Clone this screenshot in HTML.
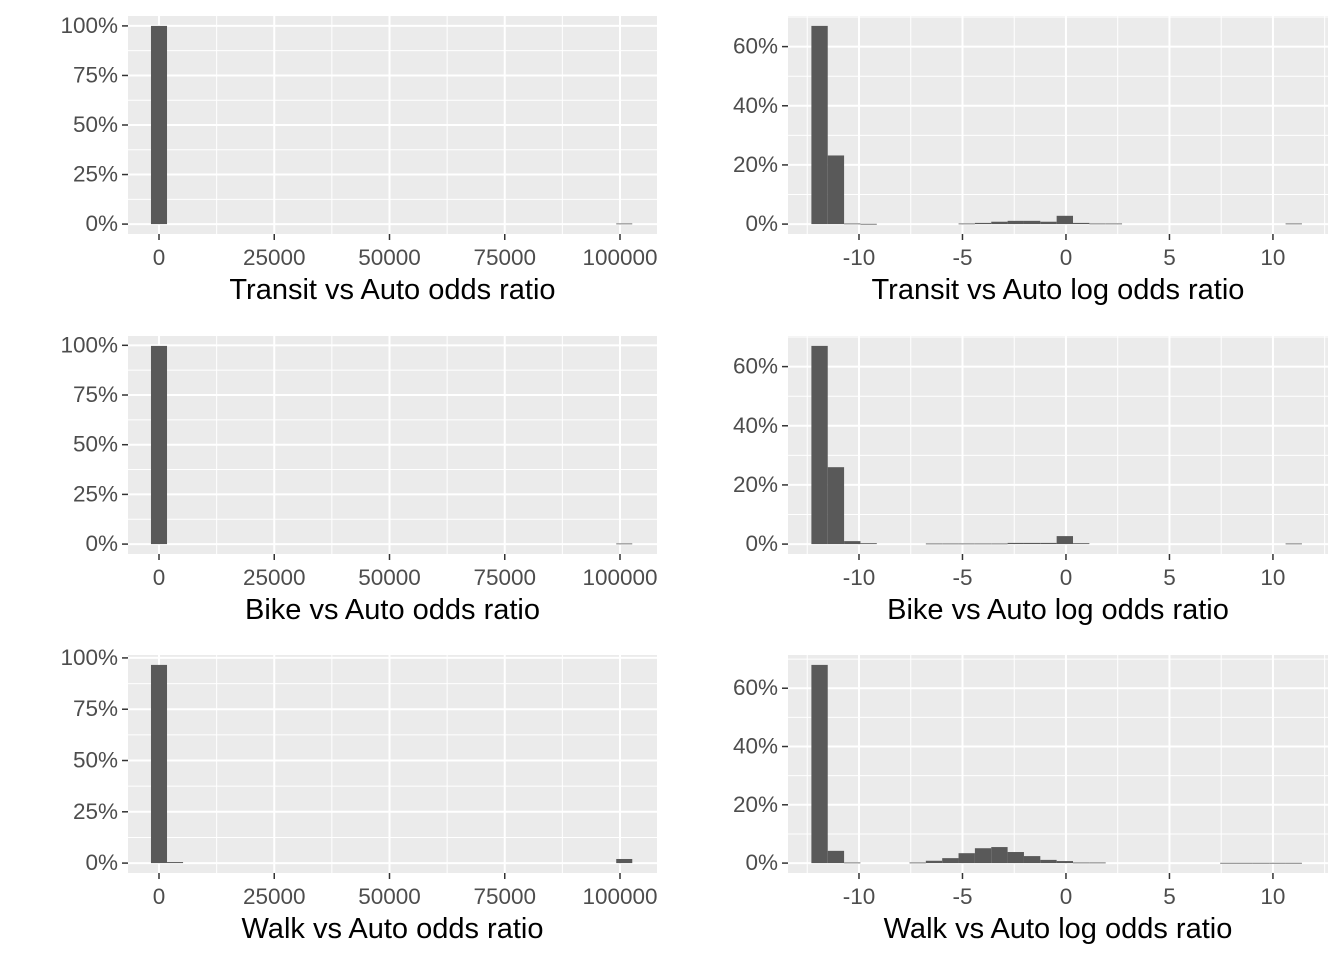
<!DOCTYPE html>
<html><head><meta charset="utf-8"><style>
html,body{margin:0;padding:0;background:#fff;}
svg{display:block;font-family:"Liberation Sans",sans-serif;}
</style></head><body>
<svg id="chart" width="1344" height="960" xmlns="http://www.w3.org/2000/svg"></svg>
<script>
// ---- data ----
const leftCenters = Array.from({length:30},(_, i)=>i*3480); // bin centres (odds ratio)
const transitOR = [100,0,0,0,0,0,0,0,0,0,0,0,0,0,0,0,0,0,0,0,0,0,0,0,0,0,0,0,0,0.3];
const bikeOR    = [99.7,0,0,0,0,0,0,0,0,0,0,0,0,0,0,0,0,0,0,0,0,0,0,0,0,0,0,0,0,0.3];
const walkOR    = [96.6,0.5,0,0,0,0,0,0,0,0,0,0,0,0,0,0,0,0,0,0,0,0,0,0,0,0,0,0,0,2.0];
const rightStarts = Array.from({length:30},(_, i)=>-12.3+i*0.79); // bin starts (log odds)
const transitLog = [67,23.2,0.2,0.1,0,0,0,0,0,0.2,0.4,0.8,1.1,1.1,0.8,2.8,0.4,0.2,0.2,0,0,0,0,0,0,0,0,0,0,0.2];
const bikeLog    = [67,26,1,0.3,0,0,0,0.2,0.2,0.2,0.2,0.2,0.4,0.4,0.4,2.7,0.3,0,0,0,0,0,0,0,0,0,0,0,0,0.2];
const walkLog    = [68,4.2,0.2,0,0,0,0.2,0.8,1.7,3.4,5.1,5.5,3.8,2.4,1.1,0.7,0.2,0.2,0,0,0,0,0,0,0,0.1,0.1,0.1,0.1,0.1];
const leftTicks = [0,25000,50000,75000,100000];
const leftTickLabels = ["0","25000","50000","75000","100000"];
const rightTicks = [-10,-5,0,5,10];
const rightTickLabels = ["-10","-5","0","5","10"];
const leftYTicks = [0,25,50,75,100];
const rightYTicks = [0,20,40,60];
const titles = ["Transit vs Auto odds ratio","Transit vs Auto log odds ratio","Bike vs Auto odds ratio","Bike vs Auto log odds ratio","Walk vs Auto odds ratio","Walk vs Auto log odds ratio"];

const svg = document.getElementById('chart');
const NS = "http://www.w3.org/2000/svg";
function mk(tag, attrs, parent){const e=document.createElementNS(NS,tag);for(const k in attrs)e.setAttribute(k,attrs[k]);parent.appendChild(e);return e;}

const rowTops=[16,336,655], rowH=218;
function panel(idx,row,isLog,values){
  const top=rowTops[row], bot=top+rowH;
  const x0=isLog?788:128, x1=isLog?1328:657;
  const xd=isLog?[-13.43,12.66]:[-6724,108026];
  const X=v=>x0+(v-xd[0])/(xd[1]-xd[0])*(x1-x0);
  const ymax=Math.max(...values);
  const yd=[-0.05*ymax,1.05*ymax];
  const Y=v=>bot-(v-yd[0])/(yd[1]-yd[0])*rowH;
  const g=mk('g',{},svg);
  
  
  const bg=mk('rect',{x:x0,y:top,width:x1-x0,height:rowH,fill:'#ebebeb'},g);
  
  
  const yt=isLog?rightYTicks:leftYTicks;
  const step=yt[1]-yt[0];
  for(let v=yt[0]+step/2; v<yd[1]; v+=step){ if(Y(v)>top) mk('line',{x1:x0,x2:x1,y1:Y(v),y2:Y(v),stroke:'#fff','stroke-width':1},g); }
  const xt=isLog?rightTicks:leftTicks;
  const xs=xt[1]-xt[0];
  for(let v=xt[0]-xs/2; v<xd[1]; v+=xs){ if(X(v)>x0) mk('line',{x1:X(v),x2:X(v),y1:top,y2:bot,stroke:'#fff','stroke-width':1},g); }
  yt.forEach(v=>{ if(v<=yd[1]){
    mk('line',{x1:x0,x2:x1,y1:Y(v),y2:Y(v),stroke:'#fff','stroke-width':2},g);
    mk('line',{x1:x0-6,x2:x0,y1:Y(v),y2:Y(v),stroke:'#333','stroke-width':1.5},g);
    const t=mk('text',{x:x0-10,y:Y(v)+7,'text-anchor':'end','font-size':22.5,fill:'#4d4d4d'},g);
    t.textContent=v+'%';
    
    
  }});
  xt.forEach((v,i)=>{
    mk('line',{x1:X(v),x2:X(v),y1:top,y2:bot,stroke:'#fff','stroke-width':2},g);
    mk('line',{x1:X(v),x2:X(v),y1:bot,y2:bot+6,stroke:'#333','stroke-width':1.5},g);
    const t=mk('text',{x:X(v),y:bot+31,'text-anchor':'middle','font-size':22.5,fill:'#4d4d4d'},g);
    t.textContent=(isLog?rightTickLabels:leftTickLabels)[i];
    
    
  });
  values.forEach((v,i)=>{
    if(v<=0) return;
    let a,b;
    if(isLog){a=rightStarts[i];b=a+0.79;} else {a=leftCenters[i]-1740;b=leftCenters[i]+1740;}
    const r=mk('rect',{x:X(a),y:Y(v),width:X(b)-X(a),height:Math.max(Y(0)-Y(v),0.8),fill:'#595959'},g);
    
    
  });
  const tt=mk('text',{x:(x0+x1)/2,y:bot+65,'text-anchor':'middle','font-size':29,fill:'#000'},g);
  tt.textContent=titles[idx];
  
  
}
panel(0,0,false,transitOR);
panel(1,0,true,transitLog);
panel(2,1,false,bikeOR);
panel(3,1,true,bikeLog);
panel(4,2,false,walkOR);
panel(5,2,true,walkLog);
</script>
</body></html>
